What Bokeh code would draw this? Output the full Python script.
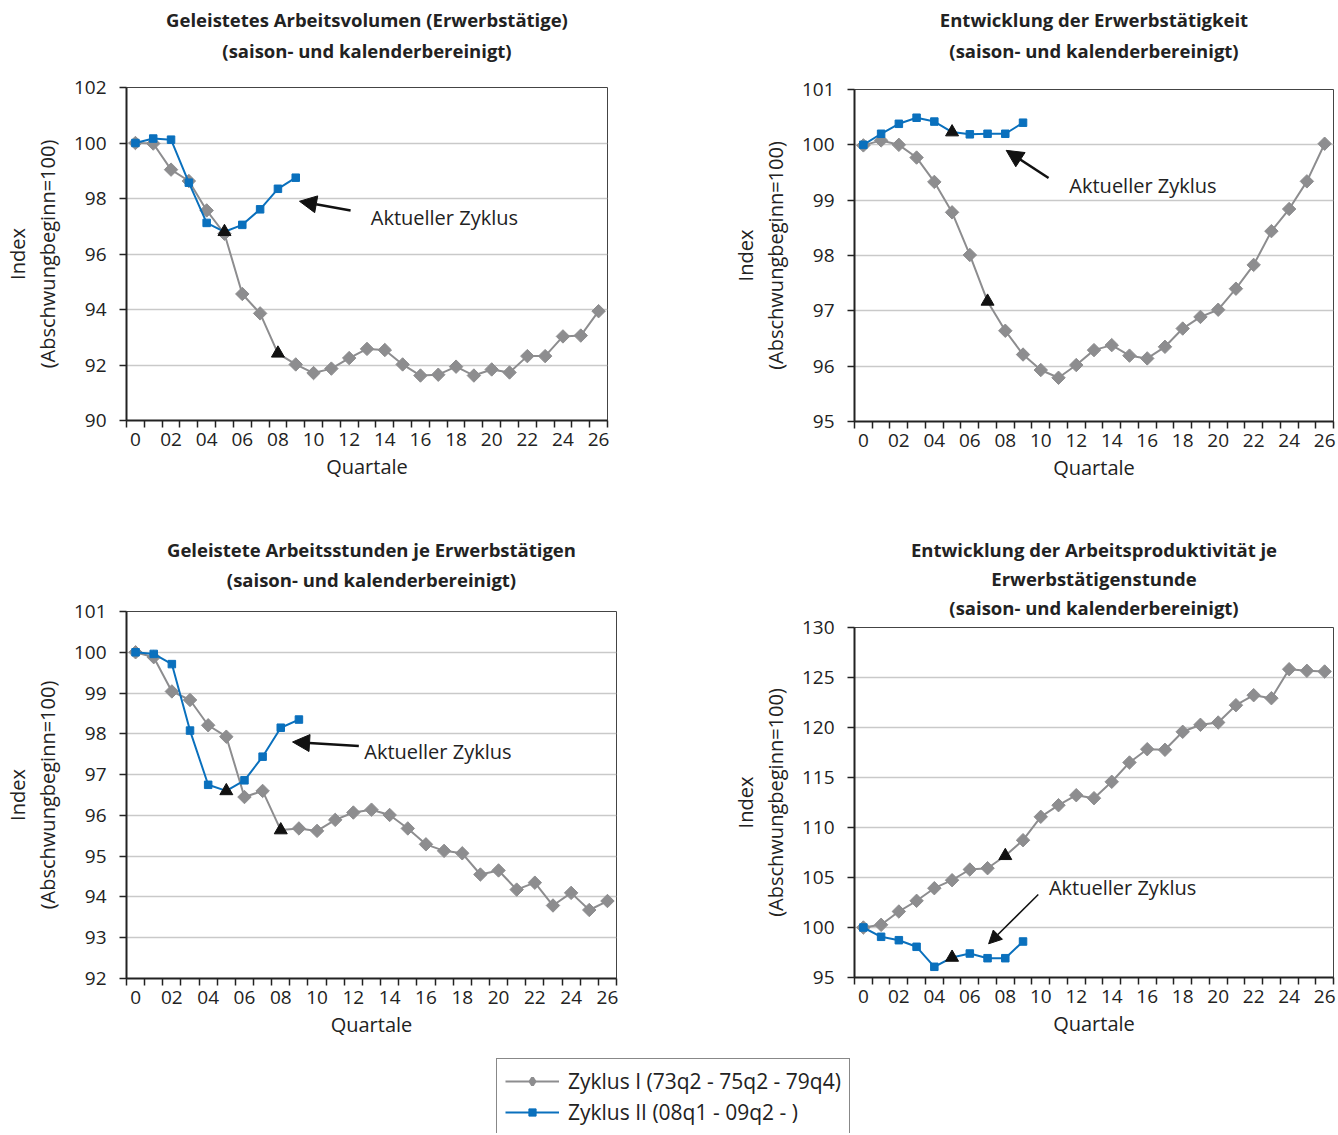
import math
from bokeh.plotting import figure
from bokeh.models import (Range1d, FixedTicker, LinearAxis, Label, Arrow,
                          NormalHead, Legend, LegendItem)
from bokeh.layouts import column, row
from bokeh.embed import file_html
from bokeh.resources import INLINE

# ---------------- data ----------------
quarters = list(range(27))
x_tick_labels = ["0", "", "02", "", "04", "", "06", "", "08", "", "10", "", "12", "",
                 "14", "", "16", "", "18", "", "20", "", "22", "", "24", "", "26"]

# Geleistetes Arbeitsvolumen (Erwerbstaetige)
vol_z1 = [100.0, 99.98, 99.04, 98.63, 97.57, 96.73, 94.56, 93.86, 92.42, 92.02, 91.71,
          91.87, 92.25, 92.58, 92.54, 92.02, 91.62, 91.65, 91.94, 91.62, 91.84, 91.73,
          92.32, 92.32, 93.03, 93.06, 93.94]
vol_z2 = [100.0, 100.16, 100.12, 98.57, 97.12, 96.80, 97.05, 97.61, 98.35, 98.75]
vol_ticks = [90, 92, 94, 96, 98, 100, 102]

# Entwicklung der Erwerbstaetigkeit
emp_z1 = [99.99, 100.08, 100.0, 99.77, 99.33, 98.78, 98.01, 97.17, 96.64, 96.21, 95.93,
          95.79, 96.02, 96.29, 96.38, 96.19, 96.14, 96.35, 96.68, 96.89, 97.02, 97.40,
          97.83, 98.44, 98.84, 99.34, 100.02]
emp_z2 = [100.0, 100.2, 100.38, 100.49, 100.42, 100.23, 100.19, 100.2, 100.2, 100.4]
emp_ticks = [95, 96, 97, 98, 99, 100, 101]

# Geleistete Arbeitsstunden je Erwerbstaetigen
hrs_z1 = [100.0, 99.88, 99.04, 98.83, 98.21, 97.93, 96.45, 96.60, 95.64, 95.68, 95.62,
          95.89, 96.07, 96.14, 96.01, 95.68, 95.29, 95.13, 95.07, 94.55, 94.65, 94.18,
          94.35, 93.79, 94.10, 93.68, 93.90]
hrs_z2 = [100.0, 99.96, 99.71, 98.08, 96.75, 96.60, 96.86, 97.44, 98.15, 98.35]
hrs_ticks = [92, 93, 94, 95, 96, 97, 98, 99, 100, 101]

# Entwicklung der Arbeitsproduktivitaet je Erwerbstaetigenstunde
prod_z1 = [100.0, 100.27, 101.6, 102.67, 103.93, 104.73, 105.8, 105.93, 107.17, 108.73,
           111.07, 112.23, 113.23, 112.93, 114.57, 116.5, 117.83, 117.77, 119.57, 120.27,
           120.5, 122.23, 123.23, 122.93, 125.83, 125.67, 125.6]
prod_z2 = [100.0, 99.07, 98.73, 98.07, 96.07, 97.0, 97.4, 96.93, 96.93, 98.6]
prod_ticks = [95, 100, 105, 110, 115, 120, 125, 130]

# trough quarters (marked with triangles)
trough_z1 = [8, 7, 8, 8]
trough_z2 = [5, 5, 5, 5]

legend_labels = ["Zyklus I (73q2 - 75q2 - 79q4)", "Zyklus II (08q1 - 09q2 - )"]
annotation_text = "Aktueller Zyklus"

# ---------------- style ----------------
FONT = "Open Sans"
GRAY = "#8d8d8f"
BLUE = "#0a70bd"
TXT = "#222222"


def make_panel(titles, z1, z2, yticks, t1, t2, width, height, borders, title_gaps,
               ann, thin_arrow=False):
    mbl, mbr, mbt, mbb = borders
    p = figure(width=width, height=height, x_range=Range1d(-0.5, 26.5),
               y_range=Range1d(yticks[0], yticks[-1]), toolbar_location=None,
               output_backend="svg", min_border_left=mbl, min_border_right=mbr,
               min_border_top=mbt, min_border_bottom=mbb)
    p.background_fill_color = "white"
    p.border_fill_color = "white"
    p.outline_line_color = "#444444"
    p.outline_line_width = 1

    # bottom axis
    xa = p.below[0]
    xa.ticker = FixedTicker(ticks=quarters,
                            minor_ticks=[q - 0.5 for q in quarters] + [quarters[-1] + 0.5])
    xa.major_label_overrides = {q: l for q, l in zip(quarters, x_tick_labels)}
    xa.major_tick_line_color = None
    xa.major_tick_out = 0
    xa.major_tick_in = 0
    xa.minor_tick_out = 7
    xa.minor_tick_in = 0
    xa.minor_tick_line_color = TXT
    xa.minor_tick_line_width = 1.5
    xa.axis_line_color = TXT
    xa.axis_line_width = 2
    xa.major_label_standoff = 5
    xa.major_label_text_font = FONT
    xa.major_label_text_font_size = "19px"
    xa.major_label_text_color = TXT
    xa.axis_label = "Quartale"
    xa.axis_label_text_font = FONT
    xa.axis_label_text_font_size = "20px"
    xa.axis_label_text_font_style = "normal"
    xa.axis_label_text_color = TXT
    xa.axis_label_standoff = 4

    # left axis
    ya = p.left[0]
    ya.ticker = FixedTicker(ticks=yticks)
    ya.minor_tick_line_color = None
    ya.major_tick_out = 7
    ya.major_tick_in = 0
    ya.major_tick_line_color = TXT
    ya.major_tick_line_width = 1.5
    ya.axis_line_color = TXT
    ya.axis_line_width = 2
    ya.major_label_standoff = 13
    ya.major_label_text_font = FONT
    ya.major_label_text_font_size = "19px"
    ya.major_label_text_color = TXT
    ya.axis_label = "(Abschwungbeginn=100)"
    ya.axis_label_text_font = FONT
    ya.axis_label_text_font_size = "20px"
    ya.axis_label_text_font_style = "normal"
    ya.axis_label_text_color = TXT
    ya.axis_label_standoff = 10

    ya2 = LinearAxis(ticker=FixedTicker(ticks=[]), axis_label="Index",
                     axis_line_color=None, major_tick_line_color=None,
                     minor_tick_line_color=None, axis_label_standoff=0,
                     axis_label_text_font=FONT, axis_label_text_font_size="20px",
                     axis_label_text_font_style="normal", axis_label_text_color=TXT)
    p.add_layout(ya2, "left")

    # title lines: tick-less axes stacked above the frame (innermost = last line)
    for t, gap in zip(reversed(titles), title_gaps):
        ta = LinearAxis(ticker=FixedTicker(ticks=[]), axis_label=t,
                        axis_line_color=None, major_tick_line_color=None,
                        minor_tick_line_color=None, major_tick_out=0, minor_tick_out=0,
                        major_label_standoff=0, axis_label_standoff=gap,
                        axis_label_text_font=FONT, axis_label_text_font_size="18.5px",
                        axis_label_text_font_style="bold", axis_label_text_color=TXT)
        p.add_layout(ta, "above")

    p.xgrid.grid_line_color = None
    p.ygrid.grid_line_color = "#c9c9c9"
    p.ygrid.grid_line_width = 1.5

    x1 = quarters[:len(z1)]
    x2 = quarters[:len(z2)]
    p.line(x1, z1, line_color=GRAY, line_width=2)
    p.scatter([x for x in x1 if x != t1], [v for x, v in zip(x1, z1) if x != t1],
              marker="square", angle=math.pi / 4, size=9.5, fill_color=GRAY,
              line_color=GRAY)
    p.line(x2, z2, line_color=BLUE, line_width=2)
    p.scatter([x for x in x2 if x != t2], [v for x, v in zip(x2, z2) if x != t2],
              marker="square", size=7.5, fill_color=BLUE, line_color=BLUE)
    p.scatter([t1, t2], [z1[t1], z2[t2]], marker="triangle", size=13,
              fill_color="#111111", line_color="#111111")

    tx, ty, sx, sy, ex, ey = ann
    if thin_arrow:
        head = NormalHead(size=13, fill_color="#111111", line_color="#111111")
        lw = 1.5
    else:
        head = NormalHead(size=17, fill_color="#111111", line_color="#111111")
        lw = 2.5
    p.add_layout(Arrow(end=head, x_start=sx, y_start=sy, x_end=ex, y_end=ey,
                       line_color="#111111", line_width=lw))
    p.add_layout(Label(x=tx, y=ty, text=annotation_text, text_baseline="middle",
                       text_font=FONT, text_font_size="20px", text_color=TXT))
    return p


# page layout (no page margin): column A 0..728, column B 728..1337
p1 = make_panel(["Geleistetes Arbeitsvolumen (Erwerbstätige)",
                 "(saison- und kalenderbereinigt)"],
                vol_z1, vol_z2, vol_ticks, trough_z1[0], trough_z2[0],
                728, 500, (124, 121, 87, 80), [25, 3],
                (13.21, 97.33, 12.08, 97.57, 9.21, 97.90))
p3 = make_panel(["Geleistete Arbeitsstunden je Erwerbstätigen",
                 "(saison- und kalenderbereinigt)"],
                hrs_z1, hrs_z2, hrs_ticks, trough_z1[2], trough_z2[2],
                728, 545, (123, 112, 111, 67), [20, 2],
                (12.6, 97.57, 12.30, 97.70, 8.65, 97.80))
p2 = make_panel(["Entwicklung der Erwerbstätigkeit",
                 "(saison- und kalenderbereinigt)"],
                emp_z1, emp_z2, emp_ticks, trough_z1[1], trough_z2[1],
                609, 500, (123, 3, 89, 79), [27, 3],
                (11.61, 99.27, 10.44, 99.40, 8.05, 99.90))
p4 = make_panel(["Entwicklung der Arbeitsproduktivität je", "Erwerbstätigenstunde",
                 "(saison- und kalenderbereinigt)"],
                prod_z1, prod_z2, prod_ticks, trough_z1[3], trough_z2[3],
                609, 545, (123, 4, 127, 68), [8, 1, 1],
                (10.46, 104.03, 9.86, 103.3, 7.06, 98.37), thin_arrow=True)

# ---------------- legend ----------------
leg = figure(width=1337, height=88, x_range=Range1d(1000, 1001), y_range=Range1d(1000, 1001),
             x_axis_type=None, y_axis_type=None, toolbar_location=None,
             output_backend="svg", min_border=0)
leg.outline_line_color = None
leg.grid.grid_line_color = None
l1 = leg.line(quarters, vol_z1, line_color=GRAY, line_width=2)
s1 = leg.scatter(quarters, vol_z1, marker="diamond", size=7, fill_color=GRAY,
                 line_color=GRAY, line_width=3)
l2 = leg.line(quarters[:len(vol_z2)], vol_z2, line_color=BLUE, line_width=2)
s2 = leg.scatter(quarters[:len(vol_z2)], vol_z2, marker="square", size=7,
                 fill_color=BLUE, line_color=BLUE, line_width=1)
legend = Legend(items=[LegendItem(label=legend_labels[0], renderers=[l1, s1]),
                       LegendItem(label=legend_labels[1], renderers=[l2, s2])],
                location=(496, -2), glyph_width=54, glyph_height=18, label_height=18,
                label_standoff=9, padding=8, spacing=3, margin=0,
                label_text_font=FONT, label_text_font_size="21px",
                label_text_color=TXT, border_line_color="#111111", border_line_width=1,
                background_fill_color="white")
leg.add_layout(legend)

layout = column(row(column(row(p1), row(p3)), column(p2, p4)), leg)
open("out.html", "w").write(file_html(layout, INLINE))
